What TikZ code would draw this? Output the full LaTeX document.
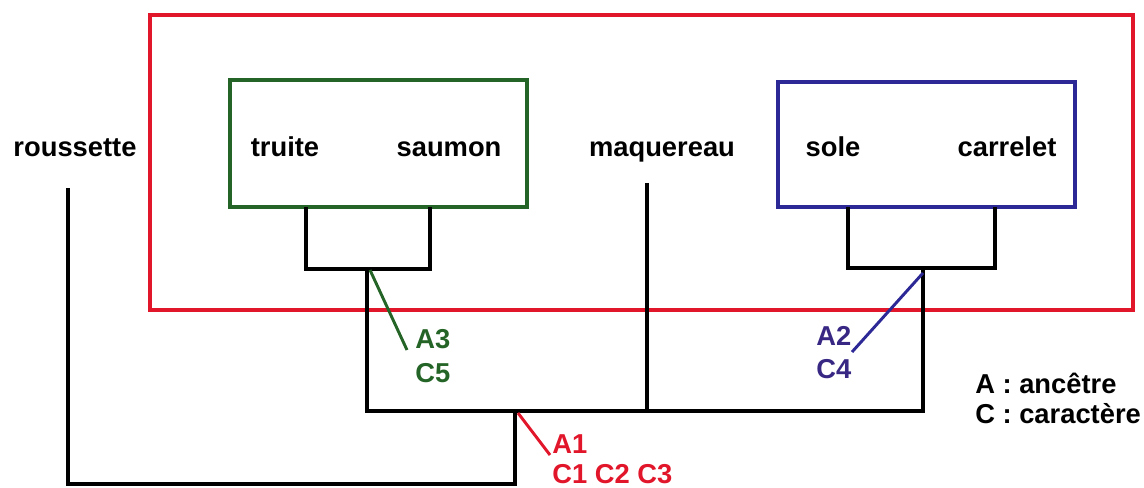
\documentclass[tikz,border=0pt]{standalone}
\usepackage{fontspec}
\setmainfont{Liberation Sans}
\usetikzlibrary{positioning}
\definecolor{groupred}{RGB}{226,22,42}
\definecolor{groupgreen}{RGB}{36,100,38}
\definecolor{groupblue}{RGB}{44,40,150}
\definecolor{markblue}{RGB}{56,40,132}

\begin{document}
\begin{tikzpicture}[
  x=0.75pt, y=-0.75pt,
  every node/.style={font=\fontsize{20.5}{24}\selectfont\bfseries, inner sep=0pt},
  taxon/.style={anchor=base},
  marker/.style={anchor=base west},
  branch/.style={line width=3pt, line join=miter},
  cladebox/.style={line width=2.3pt},
  change/.style={line width=2.2pt}
]
\useasboundingbox (0,0) rectangle (1144,488);
% groupes
\draw[cladebox, groupred, line width=2.6pt] (150,15) rectangle (1133,310);
\draw[cladebox, groupgreen] (230,80) rectangle (527,207);
\draw[cladebox, groupblue] (778,82) rectangle (1075,207);
% especes
\node[taxon] (roussette) at (75,157) {roussette};
\node[taxon] (truite) at (285,157) {truite};
\node[taxon] (saumon) at (449,157) {saumon};
\node[taxon] (maquereau) at (662,157) {maquereau};
\node[taxon] (sole) at (833,157) {sole};
\node[taxon] (carrelet) at (1007,157) {carrelet};
% noeuds de l'arbre
\coordinate (tipR) at (68,188);
\coordinate (tipM) at (647,183);
\coordinate (nodeA3) at (367,269);
\coordinate (nodeA2) at (923,268);
\coordinate (nodeA1) at (515,411);
\draw[branch] (306,207) -- (306,269) -- (430,269) -- (430,207);
\draw[branch] (848,207) -- (848,268) -- (995,268) -- (995,207);
\draw[branch] (nodeA3) -- (367,411) -- (923,411) -- (nodeA2);
\draw[branch] (tipM) -- (647,411);
\draw[branch] (nodeA1) -- (515,484) -- (68,484) -- (tipR);
% ancetres et caracteres
\node[marker, groupgreen] (a3) at (415,348) {A3};
\node[marker, groupgreen] (c5) at (415,382) {C5};
\node[marker, markblue] (a2) at (816,345) {A2};
\node[marker, markblue] (c4) at (816,378) {C4};
\node[marker, groupred] (a1) at (552,453) {A1};
\node[marker, groupred] (c123) at (552,483) {C1 C2 C3};
\coordinate (endA3) at (407,350);
\coordinate (endA2) at (852,352);
\coordinate (endA1) at (550,455);
\draw[change, groupgreen] (370,270) -- (endA3);
\draw[change, groupblue] (923,273) -- (endA2);
\draw[change, groupred] (518,413) -- (endA1);
% legende
\node[marker] (legA) at (975,393) {A : ancêtre};
\node[marker] (legC) at (975,423) {C : caractère};
\end{tikzpicture}
\end{document}
